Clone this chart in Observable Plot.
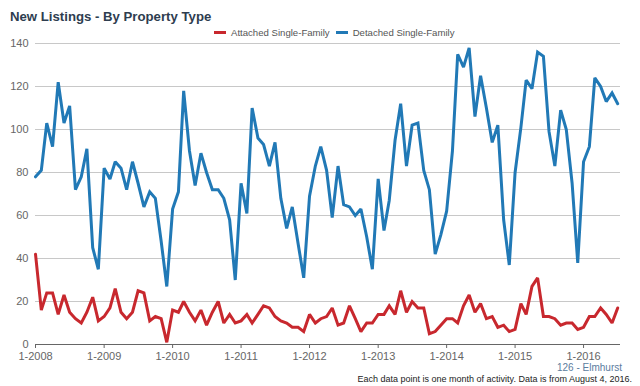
<!DOCTYPE html>
<html>
<head>
<meta charset="utf-8">
<script src="https://cdn.jsdelivr.net/npm/d3@7"></script>
<script src="https://cdn.jsdelivr.net/npm/@observablehq/plot@0.6"></script>
<style>
  html, body { margin: 0; padding: 0; background: #fff; }
  #wrap { position: relative; width: 640px; height: 386px; overflow: hidden; font-family: "Liberation Sans", Arial, sans-serif; }
  #title { position: absolute; left: 10px; top: 9px; font-size: 13.2px; font-weight: bold; color: #2e3d4f; white-space: nowrap; z-index: 2; }
  #legend { position: absolute; left: 214px; top: 27px; font-size: 9.6px; color: #555; white-space: nowrap; display: flex; align-items: center; z-index: 2; line-height: 11px; }
  #legend .sw { display: inline-block; width: 12px; height: 3px; margin-right: 5px; }
  #legend .item { display: inline-flex; align-items: center; margin-right: 6px; }
  #chart { position: absolute; left: 0; top: 36px; z-index: 1; }
  #sub { position: absolute; right: 18px; top: 362px; font-size: 10px; color: #5b7c9e; white-space: nowrap; z-index: 2; }
  #cap { position: absolute; right: 8px; top: 374px; font-size: 9px; color: #222; white-space: nowrap; z-index: 2; }
</style>
</head>
<body>
<div id="wrap">
  <div id="title"></div>
  <div id="legend"></div>
  <div id="chart"></div>
  <div id="sub"></div>
  <div id="cap"></div>
</div>
<script>
const titleText = "New Listings - By Property Type";
const subText = "126 - Elmhurst";
const captionText = "Each data point is one month of activity. Data is from August 4, 2016.";
const seriesNames = ["Attached Single-Family", "Detached Single-Family"];
const seriesColors = ["#c8282e", "#2179b6"];
const firstMonth = "2008-01";
const yTicks = [0, 20, 40, 60, 80, 100, 120, 140];
const yearTickLabels = ["1-2008", "1-2009", "1-2010", "1-2011", "1-2012", "1-2013", "1-2014", "1-2015", "1-2016"];

// Monthly values, Jan 2008 .. Jul 2016
const attached = [
  42,16,24,24,14,23,15,12,10,15,22,11,
  13,17,26,15,12,15,25,24,11,13,12,1,
  16,15,20,15,11,16,9,15,20,10,14,10,
  11,14,10,14,18,17,13,11,10,8,8,6,
  14,10,12,13,17,9,10,18,12,6,10,10,
  14,14,18,14,25,15,20,17,17,5,6,9,
  12,12,10,18,23,15,19,12,13,8,9,6,
  7,19,14,27,31,13,13,12,9,10,10,7,
  8,13,13,17,14,10,17
];
const detached = [
  78,81,103,92,122,103,111,72,78,91,45,35,
  82,77,85,82,72,85,75,64,71,68,48,27,
  63,71,118,90,74,89,80,72,72,68,58,30,
  75,61,110,96,93,83,94,68,54,64,47,31,
  69,83,92,81,59,83,65,64,60,63,50,35,
  77,53,67,95,112,83,102,103,81,72,42,51,
  62,90,135,129,138,106,125,110,94,102,58,37,
  80,101,123,119,136,134,99,83,109,100,75,38,
  85,92,124,120,113,117,112
];

const parseMonth = d3.utcParse("%Y-%m");
const start = parseMonth(firstMonth);
const rows = [];
[attached, detached].forEach((vals, s) => {
  vals.forEach((v, i) => rows.push({date: d3.utcMonth.offset(start, i), value: v, series: seriesNames[s]}));
});
const yearTickDates = yearTickLabels.map(l => d3.utcParse("%m-%Y")(l));
const lastDate = d3.utcMonth.offset(start, detached.length - 1);

document.getElementById("title").textContent = titleText;
document.getElementById("sub").textContent = subText;
document.getElementById("cap").textContent = captionText;
const legend = document.getElementById("legend");
seriesNames.forEach((n, i) => {
  const it = document.createElement("span");
  it.className = "item";
  const sw = document.createElement("span");
  sw.className = "sw";
  sw.style.background = seriesColors[i];
  it.appendChild(sw);
  it.appendChild(document.createTextNode(n));
  legend.appendChild(it);
});

const chart = Plot.plot({
  width: 640,
  height: 326,
  marginLeft: 35,
  marginRight: 20,
  marginTop: 7,
  marginBottom: 18,
  style: {fontFamily: "'Liberation Sans', Arial, sans-serif", fontSize: "11px", color: "#666", background: "transparent"},
  x: {type: "utc", domain: [start, d3.utcDay.offset(lastDate, 15)]},
  y: {domain: [0, 140]},
  color: {domain: seriesNames, range: seriesColors},
  marks: [
    Plot.gridY(yTicks.filter(d => d > 0), {stroke: "#c8c8c8", strokeOpacity: 1, strokeWidth: 1}),
    Plot.axisY(yTicks, {tickSize: 0, tickPadding: 7, fill: "#666", label: null}),
    Plot.lineY(rows, {x: "date", y: "value", stroke: "series", strokeWidth: 3, strokeLinejoin: "miter", strokeMiterlimit: 2}),
    Plot.ruleY([0], {stroke: "#666", strokeWidth: 1}),
    Plot.axisX(yearTickDates, {tickSize: 4, tickPadding: 4, stroke: "#666", fill: "#666", tickFormat: d3.utcFormat("%-m-%Y"), label: null})
  ]
});
document.getElementById("chart").appendChild(chart);
</script>
</body>
</html>
